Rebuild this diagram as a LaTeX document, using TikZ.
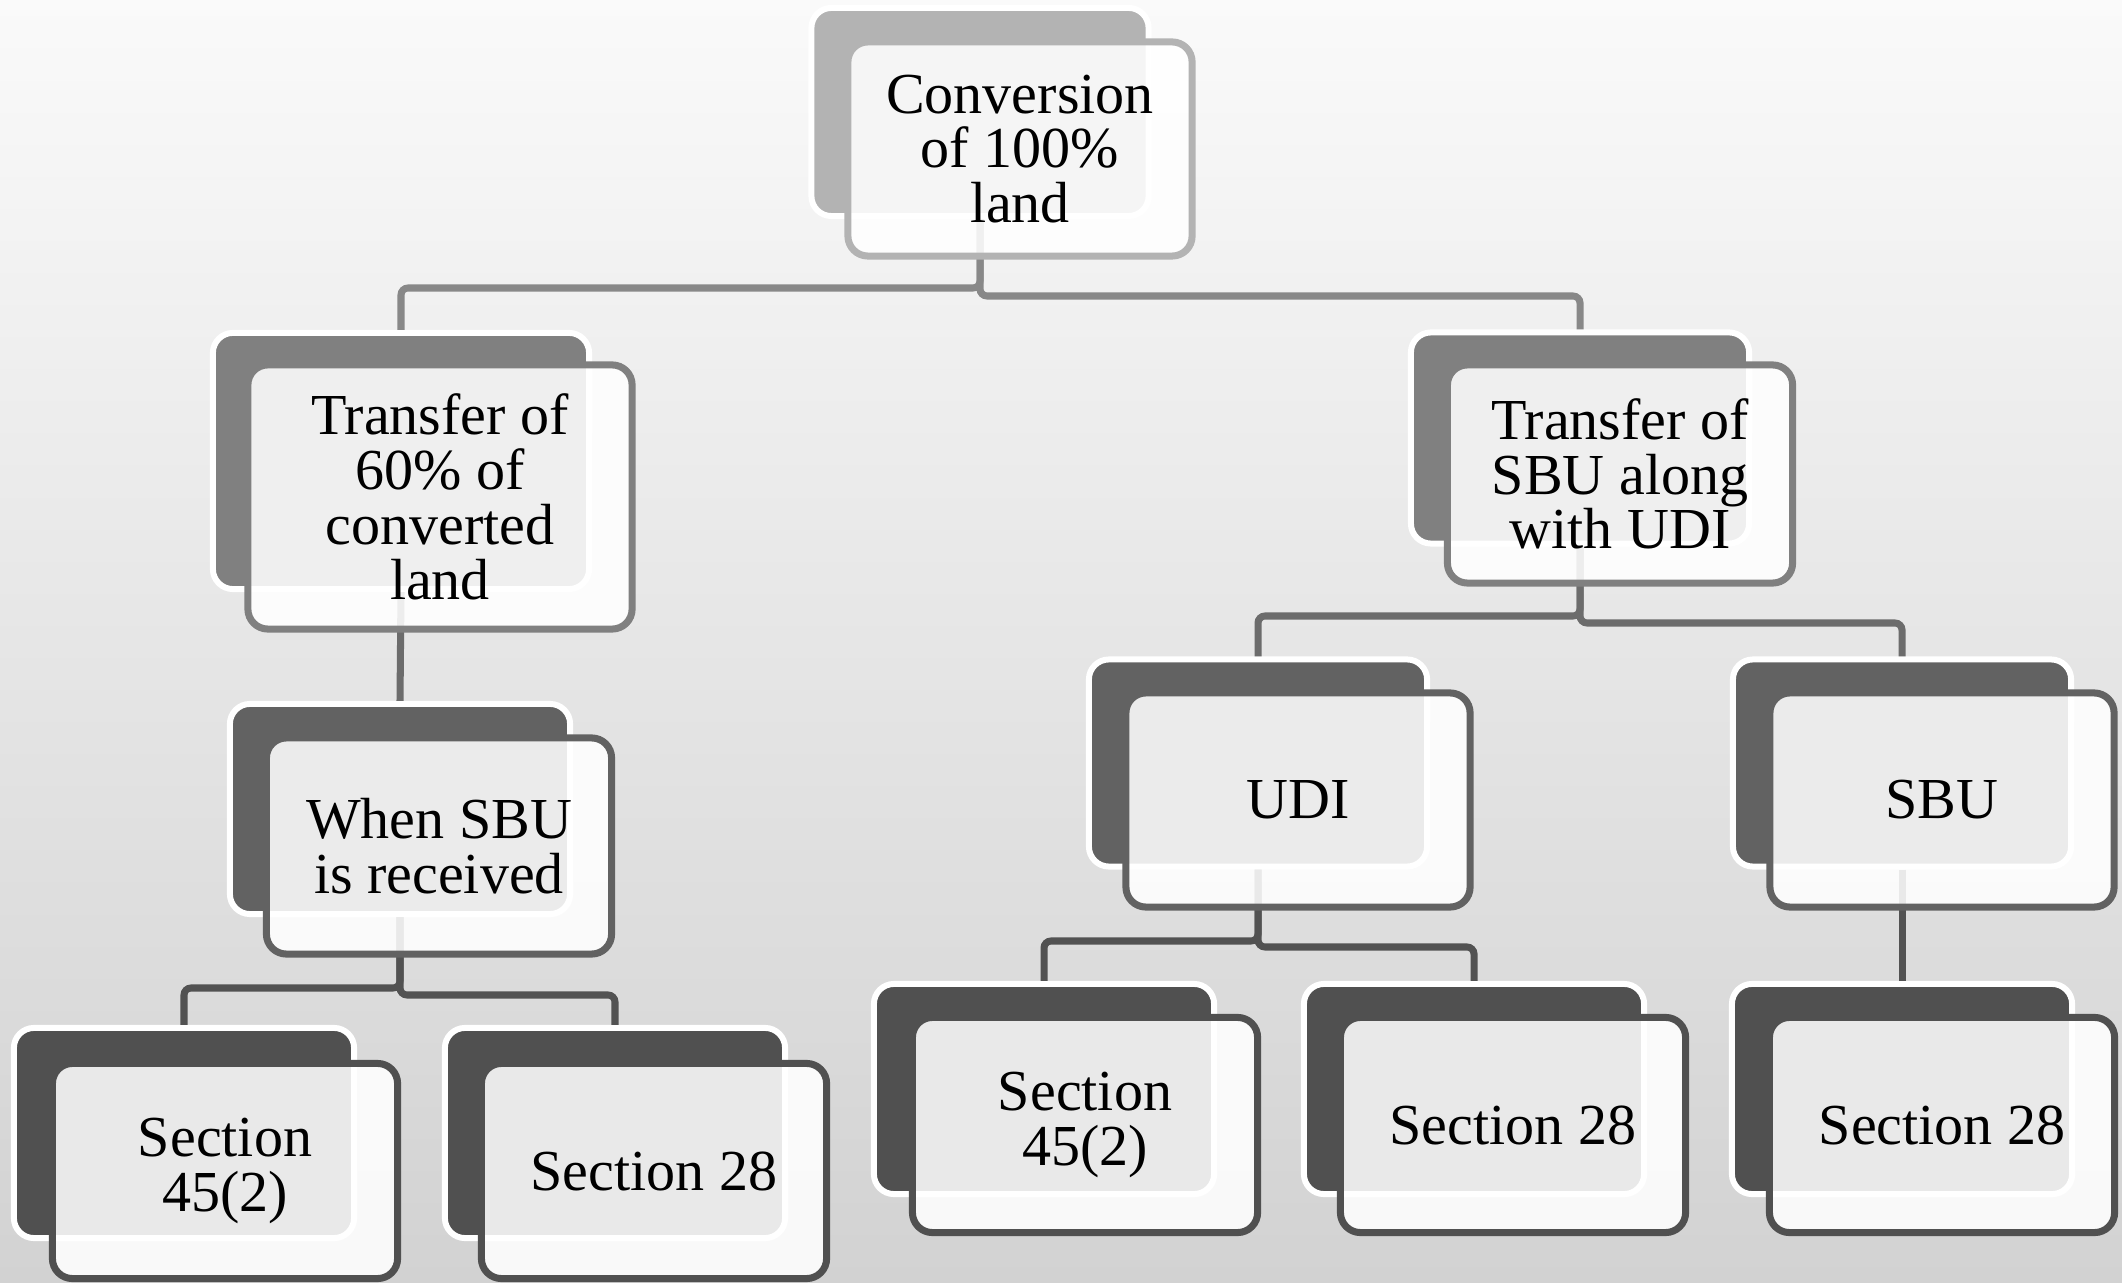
\documentclass[tikz,border=0pt]{standalone}
\usepackage{fontspec}
\setmainfont{Liberation Serif}
\usepackage{xcolor}
\definecolor{bgtop}{RGB}{250,250,250}
\definecolor{bgbot}{RGB}{210,210,210}
\definecolor{lvlone}{RGB}{179,179,179}
\definecolor{lvltwo}{RGB}{128,128,128}
\definecolor{lvlthree}{RGB}{98,98,98}
\definecolor{lvlfour}{RGB}{80,80,80}
\definecolor{linkone}{RGB}{136,136,136}
\definecolor{linktwo}{RGB}{108,108,108}
\definecolor{linkthree}{RGB}{82,82,82}
\usetikzlibrary{positioning}

\begin{document}
\begin{tikzpicture}[x=0.01cm, y=-0.01cm,
  backbox/.style={rectangle, rounded corners=0.2cm, draw=white, line width=1.7pt,
                  fill=#1, minimum width=3.4cm, minimum height=2.1cm},
  frontbox/.style={rectangle, rounded corners=0.2cm, draw=#1, line width=2pt,
                   fill=white, fill opacity=0.88, text opacity=1,
                   minimum width=3.45cm, minimum height=2.15cm, align=center,
                   font=\fontsize{16.5}{15.6}\selectfont},
  link/.style={line width=2pt, draw=#1, rounded corners=2pt}
]
% Background
\useasboundingbox (0,0) rectangle (2122,1283);
\fill[top color=bgtop, bottom color=bgbot] (0,0) rectangle (2122,1283);

% Back boxes
\node[backbox=lvlone, minimum width=3.37cm, minimum height=2.08cm] (b-conv) at (980,112) {};
\node[backbox=lvltwo, minimum width=3.76cm, minimum height=2.56cm] (b-sixty) at (401,461) {};
\node[backbox=lvltwo, minimum width=3.38cm, minimum height=2.11cm] (b-along) at (1580,438) {};
\node[backbox=lvlthree] (b-when) at (400,809) {};
\node[backbox=lvlthree, minimum width=3.38cm, minimum height=2.07cm] (b-udi) at (1258,763) {};
\node[backbox=lvlthree, minimum width=3.38cm, minimum height=2.07cm] (b-sbu) at (1902,763) {};
\node[backbox=lvlfour] (b-whenA) at (184,1133) {};
\node[backbox=lvlfour] (b-whenB) at (615,1133) {};
\node[backbox=lvlfour] (b-udiA) at (1044,1089) {};
\node[backbox=lvlfour] (b-udiB) at (1474,1089) {};
\node[backbox=lvlfour] (b-sbuA) at (1902,1089) {};

% Connectors
\draw[link=linkone] (b-conv.south) |- (b-sixty.north |- 0,288) -- (b-sixty.north);
\draw[link=linkone] (b-conv.south) |- (b-along.north |- 0,296) -- (b-along.north);
\draw[link=linktwo] (b-sixty.south) -- (b-when.north);
\draw[link=linktwo] (b-along.south) |- (b-udi.north |- 0,616) -- (b-udi.north);
\draw[link=linktwo] (b-along.south) |- (b-sbu.north |- 0,623) -- (b-sbu.north);
\draw[link=linkthree] (b-when.south) |- (b-whenA.north |- 0,988) -- (b-whenA.north);
\draw[link=linkthree] (b-when.south) |- (b-whenB.north |- 0,995) -- (b-whenB.north);
\draw[link=linkthree] (b-udi.south) |- (b-udiA.north |- 0,941) -- (b-udiA.north);
\draw[link=linkthree] (b-udi.south) |- (b-udiB.north |- 0,947) -- (b-udiB.north);
\draw[link=linkthree] (b-sbu.south) -- (b-sbuA.north);

% Front boxes with text
\node[frontbox=lvlone, minimum width=3.44cm, minimum height=2.14cm] (conv) at (1020,149) {Conversion\\of 100\%\\land};
\node[frontbox=lvltwo, minimum width=3.84cm, minimum height=2.64cm] (sixty) at (440,497) {Transfer of\\60\% of\\converted\\land};
\node[frontbox=lvltwo, minimum height=2.18cm] (along) at (1620,474) {Transfer of\\SBU along\\with UDI};
\node[frontbox=lvlthree, minimum height=2.16cm] (when) at (439,846) {When SBU\\is received};
\node[frontbox=lvlthree, minimum width=3.44cm, minimum height=2.14cm] (udi) at (1298,800) {UDI};
\node[frontbox=lvlthree, minimum width=3.44cm, minimum height=2.14cm] (sbu) at (1942,800) {SBU};
\node[frontbox=lvlfour] (whenA) at (225,1171) {Section\\45(2)};
\node[frontbox=lvlfour] (whenB) at (654,1171) {Section 28};
\node[frontbox=lvlfour] (udiA) at (1085,1125) {Section\\45(2)};
\node[frontbox=lvlfour] (udiB) at (1513,1125) {Section 28};
\node[frontbox=lvlfour] (sbuA) at (1942,1125) {Section 28};
\end{tikzpicture}
\end{document}
